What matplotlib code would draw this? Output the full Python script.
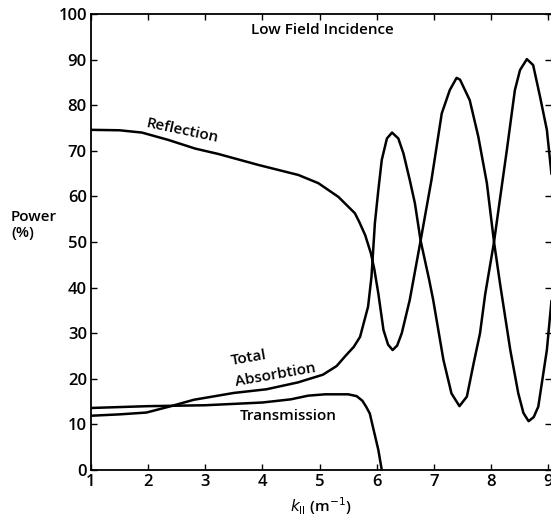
import numpy as np
import matplotlib.pyplot as plt

plt.rcParams['font.family'] = ['Open Sans', 'DejaVu Sans']

# Reflection curve (k, %)
refl_k = [1.0, 1.5, 1.89, 2.35, 2.82, 3.23, 3.93, 4.63, 4.98, 5.33, 5.62, 5.7, 5.8,
          5.9, 5.96, 6.03, 6.12, 6.2, 6.28, 6.36, 6.44, 6.58, 6.77, 6.96, 7.14, 7.28,
          7.4, 7.46, 7.63, 7.78, 7.93, 8.055, 8.16, 8.34, 8.48, 8.57, 8.66, 8.75,
          8.83, 8.98, 9.06]
refl_p = [74.6, 74.5, 74.0, 72.4, 70.5, 69.3, 66.9, 64.7, 62.9, 59.9, 56.3, 54.3, 51.5,
          47.5, 44.0, 38.7, 30.7, 27.5, 26.3, 27.3, 30.0, 37.3, 50.3, 63.6, 78.2, 83.3,
          86.0, 85.6, 81.1, 73.1, 62.9, 50.0, 40.9, 26.3, 16.8, 12.5, 10.7, 11.6,
          13.9, 26.3, 37.0]

# Total absorption curve
abs_k = [1.0, 1.5, 1.97, 2.4, 2.8, 3.08, 3.5, 4.07, 4.62, 5.06, 5.3, 5.46, 5.6, 5.71,
         5.85, 5.91, 5.97, 6.03, 6.09, 6.18, 6.27, 6.38, 6.47, 6.58, 6.67, 6.77, 6.92,
         6.99, 7.17, 7.31, 7.45, 7.58, 7.7, 7.81, 7.9, 8.055, 8.16, 8.28, 8.42, 8.51,
         8.63, 8.74, 8.86, 8.98, 9.06]
abs_p = [11.9, 12.2, 12.6, 14.0, 15.4, 16.0, 16.9, 17.7, 19.2, 20.9, 22.8, 25.1, 27.0,
         29.2, 35.8, 42.4, 54.2, 61.4, 68.0, 72.7, 74.0, 72.7, 69.4, 63.6, 58.5, 50.3,
         41.7, 37.3, 24.1, 16.8, 14.0, 16.1, 23.5, 30.0, 38.5, 50.0, 59.5, 70.2, 83.3,
         87.7, 90.1, 88.8, 81.9, 74.6, 65.0]

# Transmission curve
trans_k = [1.0, 2.0, 3.0, 4.0, 4.5, 4.8, 5.1, 5.5, 5.65, 5.75, 5.82, 5.88, 6.03, 6.09]
trans_p = [13.6, 14.0, 14.2, 14.8, 15.5, 16.3, 16.6, 16.6, 16.2, 15.2, 13.8, 12.4, 4.4, 0.0]

xticks = [1, 2, 3, 4, 5, 6, 7, 8, 9]
yticks = [0, 10, 20, 30, 40, 50, 60, 70, 80, 90, 100]

fig = plt.figure(figsize=(5.51, 5.17), dpi=100)
# 8 x-units = 457 px; the plot runs on past the picture edge
ax = fig.add_axes([91 / 551, 1 - 470 / 517, 8.06 * 457 / 8 / 551, 456 / 517])

for k, p in [(refl_k, refl_p), (abs_k, abs_p), (trans_k, trans_p)]:
    ax.plot(k, p, color='black', lw=1.8, solid_joinstyle='round')

ax.set_xlim(1, 9.06)
ax.set_ylim(0, 100)
ax.set_xticks(xticks)
ax.set_yticks(yticks)
ax.tick_params(direction='in', length=4, width=1, top=True, right=True,
               labelsize=12, pad=3)
for lab in ax.get_xticklabels() + ax.get_yticklabels():
    lab.set_fontweight('semibold')
for s in ax.spines.values():
    s.set_linewidth(1.3)
ax.spines['right'].set_visible(False)

txt = dict(fontsize=11, fontweight='semibold', ha='center', va='center')
ax.text(5.05, 96.5, 'Low Field Incidence', **txt)
ax.text(2.6, 74.4, 'Reflection', rotation=-12, **txt)
ax.text(3.76, 24.6, 'Total', rotation=10, **txt)
ax.text(4.23, 20.9, 'Absorbtion', rotation=10, **txt)
ax.text(4.46, 11.9, 'Transmission', **txt)

fig.text(11 / 551, 1 - 225 / 517, 'Power\n(%)', ha='left', va='center', fontsize=11,
         fontweight='semibold', linespacing=1.15)
ax.set_xlabel(r'$k_{\mathrm{II}}$ (m$^{-1}$)', fontsize=11, fontweight='semibold',
              labelpad=4)

fig.savefig('out.png', dpi=100)
